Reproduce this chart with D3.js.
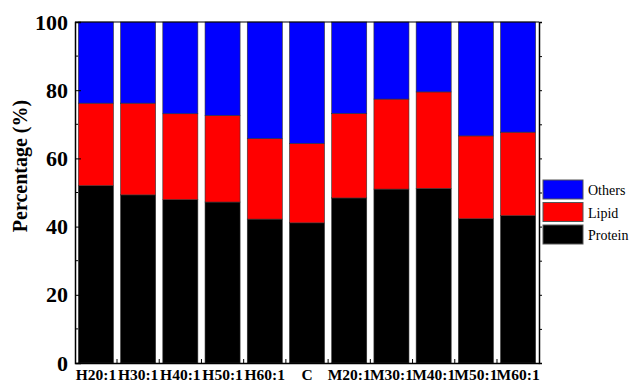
<!DOCTYPE html>
<html>
<head>
<meta charset="utf-8">
<script src="https://cdn.jsdelivr.net/npm/d3@7"></script>
<style>
  body { margin: 0; background: #fff; }
  svg text { font-family: "Liberation Serif", "Times New Roman", "DejaVu Serif", serif !important; }
</style>
</head>
<body>
<div id="chart"></div>
<script>
//samples on the x axis
var samples = ["H20:1", "H30:1", "H40:1", "H50:1", "H60:1", "C", "M20:1", "M30:1", "M40:1", "M50:1", "M60:1"];
//percentages per sample
var protein = [52.0, 49.3, 47.9, 47.2, 42.2, 41.1, 48.4, 51.0, 51.2, 42.3, 43.2];
var lipid = [24.2, 26.9, 25.2, 25.4, 23.6, 23.3, 24.8, 26.4, 28.3, 24.3, 24.5];
var others = [23.8, 23.8, 26.9, 27.4, 34.2, 35.6, 26.8, 22.6, 20.5, 33.4, 32.3];
//stack order bottom to top
var keys = ["Protein", "Lipid", "Others"];
var colors = ["#000000", "#ff0000", "#0000ff"];
var yTicks = [0, 20, 40, 60, 80, 100];

var width = 633, height = 385;
var margin = {top: 22, right: 94, bottom: 22, left: 75};

//build rows for the stack
var rows = samples.map(function(s, i) {
    return {sample: s, Protein: protein[i], Lipid: lipid[i], Others: others[i]};
});
var series = d3.stack().keys(keys)(rows);

var svg = d3.select("#chart").append("svg")
    .attr("width", width)
    .attr("height", height);

var x = d3.scaleBand()
    .domain(samples)
    .range([margin.left, width - margin.right])
    .paddingInner(0.17)
    .paddingOuter(0.08);

var y = d3.scaleLinear()
    .domain([0, 100])
    .range([height - margin.bottom, margin.top]);

var color = d3.scaleOrdinal().domain(keys).range(colors);

//the bars
svg.append("g")
    .selectAll("g")
    .data(series)
    .enter().append("g")
    .attr("fill", function(d) { return color(d.key); })
    .selectAll("rect")
    .data(function(d) { return d; })
    .enter().append("rect")
    .attr("x", function(d) { return x(d.data.sample); })
    .attr("y", function(d) { return y(d[1]); })
    .attr("height", function(d) { return y(d[0]) - y(d[1]); })
    .attr("width", x.bandwidth())
    .attr("stroke", "#333")
    .attr("stroke-width", 0.6);

//left axis, ticks point inward
var yAxis = svg.append("g")
    .attr("transform", "translate(" + margin.left + ",0)")
    .call(d3.axisLeft(y).tickValues(yTicks).tickSize(-6).tickPadding(7));
yAxis.selectAll("text")
    .attr("font-size", 22)
    .attr("font-weight", "bold");
//minor ticks
yAxis.selectAll(".minor")
    .data([10, 30, 50, 70, 90])
    .enter().append("line")
    .attr("class", "minor")
    .attr("x1", 0).attr("x2", 3)
    .attr("y1", y).attr("y2", y)
    .attr("stroke", "#000");

//right axis
var yRight = svg.append("g")
    .attr("transform", "translate(" + (width - margin.right) + ",0)")
    .call(d3.axisRight(y).ticks(10).tickSize(3).tickFormat(""));

//bottom axis
var xAxis = svg.append("g")
    .attr("transform", "translate(0," + (height - margin.bottom) + ")")
    .call(d3.axisBottom(x).tickSize(0).tickPadding(6));
xAxis.selectAll("text")
    .attr("font-size", 15.5)
    .attr("font-weight", "bold");
//ticks between the bars
xAxis.selectAll(".sep")
    .data(samples.slice(1))
    .enter().append("line")
    .attr("class", "sep")
    .attr("x1", function(d) { return x(d) - x.step() * x.paddingInner() / 2; })
    .attr("x2", function(d) { return x(d) - x.step() * x.paddingInner() / 2; })
    .attr("y1", 0).attr("y2", -4)
    .attr("stroke", "#000");

//top axis line
svg.append("line")
    .attr("x1", margin.left).attr("x2", width - margin.right)
    .attr("y1", margin.top).attr("y2", margin.top)
    .attr("stroke", "#000");

svg.selectAll(".domain").attr("stroke", "#000").attr("stroke-width", 1.5);

//axis title
svg.append("text")
    .attr("transform", "translate(27,166) rotate(-90)")
    .attr("text-anchor", "middle")
    .attr("font-size", 20)
    .attr("font-weight", "bold")
    .text("Percentage (%)");

//legend, drawn top to bottom: Others, Lipid, Protein
var legend = svg.append("g")
    .attr("transform", "translate(543,180)")
    .selectAll("g")
    .data(keys.slice().reverse())
    .enter().append("g")
    .attr("transform", function(d, i) { return "translate(0," + (i * 22.5) + ")"; });

legend.append("rect")
    .attr("width", 40)
    .attr("height", 19)
    .attr("fill", function(d) { return color(d); })
    .attr("stroke", "#555")
    .attr("stroke-width", 1);

legend.append("text")
    .attr("x", 45)
    .attr("y", 15)
    .attr("font-size", 14)
    .text(function(d) { return d; });
</script>
</body>
</html>
